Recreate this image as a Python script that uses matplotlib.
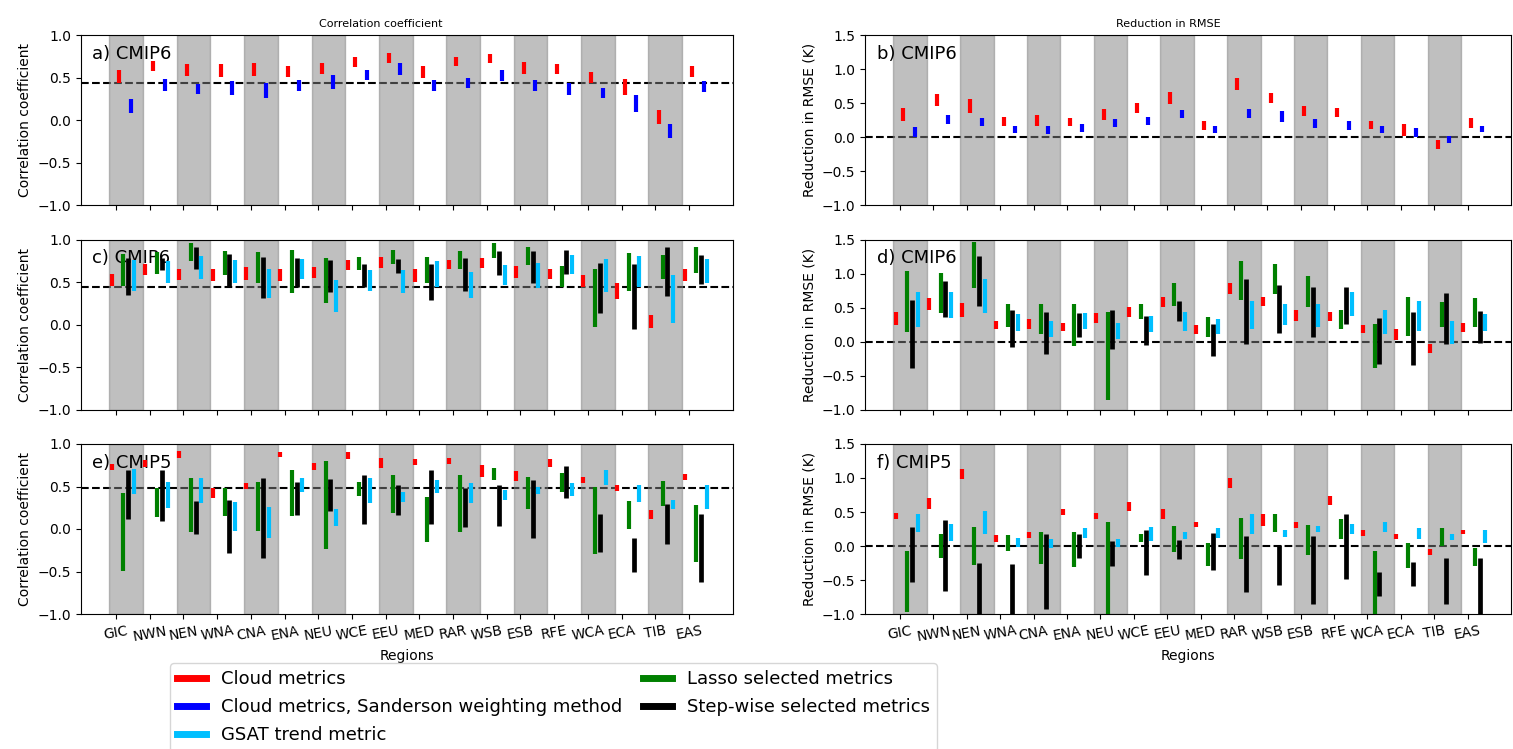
import numpy as np
import matplotlib.pyplot as plt
from matplotlib.lines import Line2D

regions = ["GIC", "NWN", "NEN", "WNA", "CNA", "ENA", "NEU", "WCE", "EEU",
           "MED", "RAR", "WSB", "ESB", "RFE", "WCA", "ECA", "TIB", "EAS"]

# each entry is (low, high) of the range for one region

# a) correlation, CMIP6
a_cloud = [(0.44, 0.59), (0.58, 0.70), (0.52, 0.66), (0.51, 0.66), (0.52, 0.67), (0.51, 0.64),
           (0.54, 0.67), (0.63, 0.75), (0.67, 0.79), (0.50, 0.64), (0.64, 0.75), (0.67, 0.78),
           (0.54, 0.68), (0.54, 0.66), (0.44, 0.57), (0.30, 0.48), (-0.04, 0.12), (0.51, 0.64)]
a_sanderson = [(0.08, 0.25), (0.35, 0.48), (0.31, 0.43), (0.30, 0.46), (0.26, 0.44), (0.34, 0.47),
               (0.37, 0.53), (0.47, 0.59), (0.53, 0.67), (0.34, 0.47), (0.38, 0.50), (0.46, 0.59),
               (0.35, 0.47), (0.30, 0.44), (0.26, 0.38), (0.10, 0.30), (-0.21, -0.04), (0.33, 0.46)]

# b) RMSE reduction, CMIP6
b_cloud = [(0.24, 0.43), (0.46, 0.64), (0.36, 0.56), (0.17, 0.30), (0.17, 0.33), (0.16, 0.29),
           (0.26, 0.42), (0.36, 0.50), (0.49, 0.66), (0.11, 0.24), (0.69, 0.87), (0.51, 0.65),
           (0.31, 0.46), (0.30, 0.43), (0.12, 0.24), (0.02, 0.19), (-0.17, -0.04), (0.14, 0.28)]
b_sanderson = [(0.00, 0.15), (0.20, 0.33), (0.16, 0.29), (0.06, 0.17), (0.05, 0.17), (0.08, 0.19),
               (0.15, 0.27), (0.18, 0.30), (0.28, 0.40), (0.06, 0.16), (0.28, 0.42), (0.23, 0.38),
               (0.14, 0.27), (0.11, 0.24), (0.06, 0.16), (0.00, 0.13), (-0.09, 0.02), (0.08, 0.17)]

# c) correlation, CMIP6
c_cloud = [(0.45, 0.60), (0.58, 0.71), (0.53, 0.66), (0.51, 0.66), (0.53, 0.68), (0.51, 0.65),
           (0.55, 0.68), (0.64, 0.76), (0.67, 0.80), (0.50, 0.65), (0.65, 0.76), (0.67, 0.78),
           (0.55, 0.69), (0.54, 0.66), (0.44, 0.58), (0.30, 0.49), (-0.04, 0.12), (0.51, 0.65)]
c_lasso = [(0.46, 0.83), (0.60, 0.85), (0.75, 0.96), (0.58, 0.87), (0.49, 0.86), (0.37, 0.88),
           (0.26, 0.78), (0.64, 0.80), (0.71, 0.88), (0.49, 0.80), (0.65, 0.87), (0.78, 0.96),
           (0.70, 0.92), (0.44, 0.69), (-0.03, 0.65), (0.40, 0.84), (0.54, 0.82), (0.61, 0.92)]
c_step = [(0.35, 0.78), (0.64, 0.78), (0.66, 0.92), (0.44, 0.83), (0.32, 0.80), (0.44, 0.78),
          (0.38, 0.76), (0.44, 0.71), (0.61, 0.77), (0.29, 0.71), (0.40, 0.78), (0.58, 0.87),
          (0.49, 0.87), (0.60, 0.88), (0.14, 0.73), (-0.05, 0.71), (0.34, 0.91), (0.48, 0.82)]
c_gsat = [(0.40, 0.76), (0.49, 0.75), (0.54, 0.81), (0.49, 0.76), (0.32, 0.65), (0.54, 0.77),
          (0.15, 0.53), (0.40, 0.64), (0.37, 0.64), (0.44, 0.75), (0.32, 0.62), (0.47, 0.70),
          (0.43, 0.73), (0.60, 0.82), (0.39, 0.77), (0.44, 0.81), (0.02, 0.58), (0.49, 0.77)]

# d) RMSE reduction, CMIP6
d_cloud = [(0.24, 0.44), (0.47, 0.64), (0.36, 0.57), (0.18, 0.30), (0.18, 0.33), (0.16, 0.28),
           (0.27, 0.42), (0.36, 0.51), (0.51, 0.66), (0.11, 0.25), (0.70, 0.87), (0.52, 0.66),
           (0.31, 0.47), (0.30, 0.44), (0.13, 0.25), (0.02, 0.19), (-0.16, -0.03), (0.15, 0.28)]
d_lasso = [(0.15, 1.04), (0.42, 1.01), (0.79, 1.46), (0.21, 0.56), (0.11, 0.55), (-0.06, 0.55),
           (-0.85, 0.44), (0.34, 0.56), (0.53, 0.87), (0.07, 0.36), (0.61, 1.19), (0.70, 1.15),
           (0.51, 0.97), (0.18, 0.47), (-0.39, 0.26), (0.09, 0.66), (0.22, 0.58), (0.21, 0.64)]
d_step = [(-0.38, 0.62), (0.36, 0.89), (0.52, 1.26), (-0.08, 0.47), (-0.18, 0.44), (0.07, 0.42),
          (-0.10, 0.47), (-0.05, 0.38), (0.30, 0.60), (-0.21, 0.26), (-0.04, 0.92), (0.13, 0.83),
          (0.07, 0.81), (0.26, 0.81), (-0.33, 0.35), (-0.34, 0.44), (-0.03, 0.72), (-0.02, 0.45)]
d_gsat = [(0.21, 0.73), (0.35, 0.73), (0.42, 0.92), (0.16, 0.41), (0.07, 0.30), (0.18, 0.42),
          (0.04, 0.28), (0.15, 0.38), (0.16, 0.44), (0.11, 0.33), (0.19, 0.60), (0.24, 0.55),
          (0.21, 0.55), (0.38, 0.73), (0.11, 0.47), (0.16, 0.60), (-0.04, 0.30), (0.16, 0.41)]

# e) correlation, CMIP5
e_cloud = [(0.69, 0.76), (0.73, 0.81), (0.84, 0.92), (0.36, 0.48), (0.47, 0.54), (0.85, 0.91),
           (0.69, 0.78), (0.82, 0.91), (0.72, 0.84), (0.75, 0.82), (0.76, 0.84), (0.61, 0.75),
           (0.57, 0.68), (0.73, 0.82), (0.54, 0.61), (0.45, 0.52), (0.12, 0.22), (0.58, 0.65)]
e_lasso = [(-0.49, 0.42), (0.14, 0.48), (-0.04, 0.60), (0.15, 0.48), (-0.02, 0.55), (0.15, 0.70),
           (-0.24, 0.80), (0.39, 0.55), (0.19, 0.64), (-0.15, 0.38), (-0.03, 0.63), (0.58, 0.72),
           (0.23, 0.61), (0.43, 0.66), (-0.29, 0.49), (0.00, 0.33), (0.27, 0.57), (-0.39, 0.28)]
e_step = [(0.12, 0.70), (0.09, 0.69), (-0.06, 0.33), (-0.28, 0.34), (-0.34, 0.60), (0.16, 0.55),
          (0.21, 0.59), (0.06, 0.64), (0.17, 0.52), (0.06, 0.69), (0.02, 0.48), (0.04, 0.52),
          (-0.10, 0.58), (0.36, 0.74), (-0.27, 0.18), (-0.51, -0.10), (-0.18, 0.30), (-0.62, 0.18)]
e_gsat = [(0.41, 0.71), (0.25, 0.55), (0.31, 0.60), (-0.02, 0.32), (-0.10, 0.26), (0.43, 0.60),
          (0.04, 0.23), (0.31, 0.60), (0.32, 0.44), (0.42, 0.58), (0.31, 0.54), (0.34, 0.46),
          (0.41, 0.50), (0.39, 0.54), (0.52, 0.69), (0.32, 0.52), (0.23, 0.34), (0.23, 0.52)]

# f) RMSE reduction, CMIP5
f_cloud = [(0.40, 0.48), (0.54, 0.71), (0.99, 1.13), (0.06, 0.16), (0.12, 0.20), (0.46, 0.54),
           (0.40, 0.49), (0.52, 0.64), (0.39, 0.55), (0.28, 0.36), (0.86, 1.00), (0.30, 0.47),
           (0.26, 0.36), (0.60, 0.74), (0.15, 0.24), (0.10, 0.18), (-0.13, -0.04), (0.17, 0.24)]
f_lasso = [(-0.97, -0.08), (-0.18, 0.18), (-0.28, 0.28), (-0.07, 0.16), (-0.27, 0.20), (-0.31, 0.20),
           (-1.00, 0.36), (0.06, 0.18), (-0.09, 0.29), (-0.30, 0.05), (-0.19, 0.41), (0.21, 0.47),
           (-0.13, 0.31), (0.10, 0.40), (-1.00, -0.07), (-0.33, 0.05), (0.00, 0.26), (-0.30, -0.03)]
f_step = [(-0.53, 0.28), (-0.66, 0.38), (-1.05, -0.25), (-1.05, -0.27), (-0.92, 0.18), (-0.17, 0.17),
          (-0.29, 0.08), (-0.42, 0.24), (-0.19, 0.09), (-0.35, 0.19), (-0.67, 0.15), (-0.57, 0.02),
          (-0.86, 0.15), (-0.48, 0.47), (-0.73, -0.38), (-0.59, -0.23), (-0.85, -0.18), (-1.05, -0.18)]
f_gsat = [(0.20, 0.47), (0.07, 0.33), (0.17, 0.52), (-0.02, 0.12), (-0.03, 0.10), (0.12, 0.26),
          (-0.01, 0.10), (0.07, 0.28), (0.10, 0.20), (0.12, 0.26), (0.18, 0.47), (0.13, 0.24),
          (0.20, 0.29), (0.18, 0.33), (0.20, 0.35), (0.10, 0.26), (0.09, 0.18), (0.04, 0.23)]

# reference lines (dashed)
a_ref, b_ref, c_ref, d_ref, e_ref, f_ref = 0.44, 0.0, 0.44, 0.0, 0.48, 0.0

x = np.arange(len(regions))


def draw_panel(ax, series, ref, label, ylim, yticks):
    ax.axhline(ref, color="black", ls="--", lw=1.5, zorder=1)
    for i in range(0, len(regions), 2):
        ax.axvspan(i - 0.2, i + 0.8, color="grey", alpha=0.5, zorder=2)
    for data, off, col, lw in series:
        lo = [d[0] for d in data]
        hi = [d[1] for d in data]
        ax.vlines(x + off, lo, hi, colors=col, lw=lw, zorder=3)
    ax.set_xlim(-1.05, 18.3)
    ax.set_ylim(ylim)
    ax.set_yticks(yticks)
    ax.set_xticks(x)
    ax.text(0.018, 0.89, label, transform=ax.transAxes, fontsize=13, va="center", zorder=2.5)


fig = plt.figure(figsize=(15.13, 7.49), dpi=100)
W, H = 1513.0, 749.0
lefts = [80.7, 865]
widths = [652, 646]
tops = [35.3, 239.7, 444]
hgt = 170

axes = {}
for r in range(3):
    for c in range(2):
        axes[(r, c)] = fig.add_axes([lefts[c] / W, 1 - (tops[r] + hgt) / H, widths[c] / W, hgt / H])

cc_ticks = [-1.0, -0.5, 0.0, 0.5, 1.0]
rm_ticks = [-1.0, -0.5, 0.0, 0.5, 1.0, 1.5]

draw_panel(axes[(0, 0)], [(a_cloud, 0.1, "red", 3), (a_sanderson, 0.44, "blue", 3)],
           a_ref, "a) CMIP6", (-1, 1), cc_ticks)
draw_panel(axes[(0, 1)], [(b_cloud, 0.1, "red", 3), (b_sanderson, 0.44, "blue", 3)],
           b_ref, "b) CMIP6", (-1, 1.5), rm_ticks)


def four_series(cl, la, st, gs):
    return [(cl, -0.13, "red", 3), (la, 0.22, "green", 3),
            (st, 0.36, "black", 3.4), (gs, 0.53, "deepskyblue", 3)]


draw_panel(axes[(1, 0)], four_series(c_cloud, c_lasso, c_step, c_gsat), c_ref, "c) CMIP6", (-1, 1), cc_ticks)
draw_panel(axes[(1, 1)], four_series(d_cloud, d_lasso, d_step, d_gsat), d_ref, "d) CMIP6", (-1, 1.5), rm_ticks)
draw_panel(axes[(2, 0)], four_series(e_cloud, e_lasso, e_step, e_gsat), e_ref, "e) CMIP5", (-1, 1), cc_ticks)
draw_panel(axes[(2, 1)], four_series(f_cloud, f_lasso, f_step, f_gsat), f_ref, "f) CMIP5", (-1, 1.5), rm_ticks)

for r in range(3):
    axes[(r, 0)].set_ylabel("Correlation coefficient")
    axes[(r, 1)].set_ylabel("Reduction in RMSE (K)")
    for c in range(2):
        if r < 2:
            axes[(r, c)].set_xticklabels([])
        else:
            axes[(r, c)].set_xticklabels(regions, rotation=10)
            axes[(r, c)].set_xlabel("Regions")

axes[(0, 0)].set_title("Correlation coefficient", fontsize=8, x=0.46)
axes[(0, 1)].set_title("Reduction in RMSE", fontsize=8, x=0.47)

# legend: cloud, sanderson, gsat | lasso, step-wise
handles = [Line2D([], [], color="red", lw=5), Line2D([], [], color="blue", lw=5),
           Line2D([], [], color="deepskyblue", lw=5), Line2D([], [], color="green", lw=5),
           Line2D([], [], color="black", lw=5)]
names = ["Cloud metrics", "Cloud metrics, Sanderson weighting method", "GSAT trend metric",
         "Lasso selected metrics", "Step-wise selected metrics"]
fig.legend(handles, names, loc="upper left", bbox_to_anchor=(170 / W, 1 - 663 / H),
           borderaxespad=0, ncol=2, fontsize=13, labelspacing=0.55,
           handlelength=1.6, columnspacing=1.2)

fig.savefig("out.png", dpi=100)
